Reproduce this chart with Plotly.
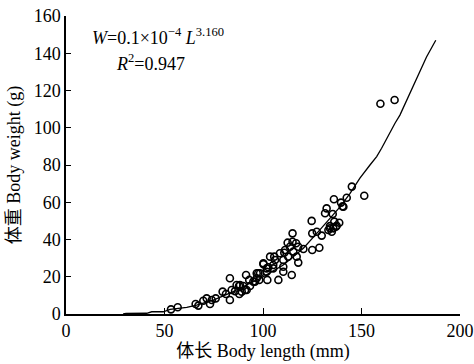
import plotly.graph_objects as go

# Observed data: body length (mm) and body weight (g)
length_mm = [53.3, 56.7, 65.8, 67.2, 69.7, 71.4, 73.1, 74.0, 76.0, 79.5, 81.2, 83.2, 83.2, 84.1,
             85.8, 86.6, 87.8, 88.0, 88.3, 89.2, 90.0, 90.9, 91.4, 91.7, 93.0, 93.4, 95.1, 95.9,
             96.8, 96.8, 97.6, 98.1, 98.5, 100.2, 100.2, 101.9, 101.9, 102.2, 102.7, 103.6, 105.2,
             105.2, 105.7, 106.1, 107.8, 108.6, 110.3, 110.3, 110.3, 110.8, 111.2, 112.5, 112.8,
             113.7, 114.6, 115.0, 115.0, 115.4, 116.8, 117.1, 117.9, 117.9, 120.5, 124.7, 125.0,
             125.0, 127.3, 128.6, 129.8, 131.5, 132.3, 133.2, 134.0, 134.0, 134.9, 135.4, 135.7,
             136.0, 136.2, 137.0, 137.4, 138.7, 139.6, 140.4, 140.8, 142.5, 145.1, 151.4, 159.6,
             166.8]
weight_g = [2.5, 3.6, 5.4, 4.5, 7.1, 8.4, 5.4, 7.5, 8.4, 12.0, 10.7, 19.2, 7.5, 12.9,
            12.3, 15.6, 15.0, 10.7, 15.6, 12.0, 15.0, 12.9, 20.9, 12.9, 18.3, 15.0, 17.4, 17.4,
            19.2, 21.9, 21.9, 18.3, 21.9, 26.8, 27.2, 24.5, 22.7, 18.3, 25.1, 30.8, 24.5,
            26.3, 30.8, 29.0, 18.3, 32.6, 29.0, 25.4, 22.7, 32.9, 34.4, 38.3, 30.8,
            36.1, 20.9, 43.3, 38.8, 33.5, 38.0, 30.8, 36.1, 27.6, 34.9, 50.0, 43.3,
            34.4, 44.2, 35.6, 42.1, 54.1, 56.7, 45.1, 46.0, 47.2, 44.2, 53.7, 46.0,
            61.6, 49.6, 46.9, 47.4, 49.0, 59.8, 57.8, 57.6, 62.4, 68.4, 63.5, 112.9,
            114.9]

# Fitted curve as drawn
fit_length = [29.0, 30.5, 41.0, 43.5, 49.4, 52.8, 61.3, 66.3, 74.8, 84.9, 93.4, 98.5, 110.3,
              120.5, 127.3, 134.0, 139.1, 144.2, 149.2, 154.3, 157.7, 160.2, 163.6, 167.0,
              169.5, 173.0, 176.3, 178.8, 183.0, 187.7]
fit_weight = [0.0, 0.3, 0.4, 1.2, 1.2, 2.5, 3.6, 4.8, 7.5, 12.0, 16.5, 19.0, 26.3,
              35.3, 43.3, 51.4, 57.5, 64.8, 72.9, 80.0, 84.5, 89.0, 96.1, 102.4,
              106.8, 115.0, 123.0, 129.0, 138.0, 147.0]

x_ticks = [0, 50, 100, 150, 200]
y_ticks = [0, 20, 40, 60, 80, 100, 120, 140, 160]

FONT = "Liberation Serif, Times New Roman, Noto Sans CJK SC, serif"

fig = go.Figure()
fig.add_trace(go.Scatter(x=fit_length, y=fit_weight, mode="lines",
                         line=dict(color="black", width=1.3), showlegend=False))
fig.add_trace(go.Scatter(x=length_mm, y=weight_g, mode="markers",
                         marker=dict(symbol="circle-open", size=7, color="black",
                                     line=dict(width=1.6, color="black")),
                         showlegend=False))

fig.add_annotation(x=12.2, y=149, xref="x", yref="y", xanchor="left", yanchor="middle",
                   text="<i>W</i>=0.1×10<sup>−4</sup> <i>L</i><sup>3.160</sup>",
                   showarrow=False, font=dict(family=FONT, size=18, color="black"))
fig.add_annotation(x=43, y=135, xref="x", yref="y", xanchor="center", yanchor="middle",
                   text="<i>R</i><sup>2</sup>=0.947",
                   showarrow=False, font=dict(family=FONT, size=18, color="black"))

fig.update_layout(
    width=474, height=364,
    margin=dict(l=66, r=14, t=16, b=50),
    paper_bgcolor="white", plot_bgcolor="white",
    font=dict(family=FONT, size=18, color="black"),
    xaxis=dict(range=[0, 200], tickvals=x_ticks, ticks="inside", ticklen=6, tickwidth=1.3,
               tickcolor="black", showline=True, linecolor="black", linewidth=1.5,
               showgrid=False, zeroline=False, automargin=False,
               title=dict(text="体长 Body length (mm)", standoff=4,
                          font=dict(family=FONT, size=18))),
    yaxis=dict(range=[0, 160], tickvals=y_ticks, ticks="inside", ticklen=5, tickwidth=1.3,
               tickcolor="black", showline=True, linecolor="black", linewidth=1.5,
               showgrid=False, zeroline=False, automargin=False,
               title=dict(text="体重 Body weight (g)", standoff=8,
                          font=dict(family=FONT, size=18))),
)

fig.write_html("out.html")
